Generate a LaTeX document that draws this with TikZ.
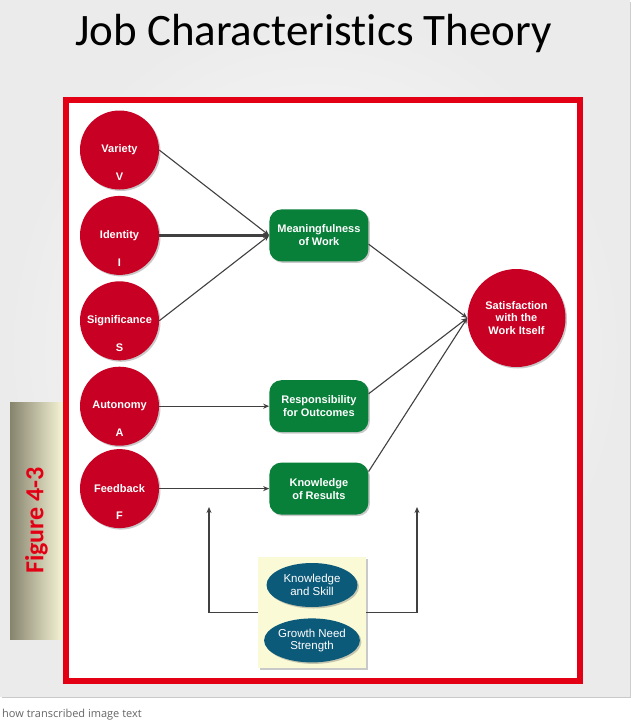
\documentclass[tikz,border=0pt]{standalone}
\usepackage{fontspec}
\setmainfont{Liberation Sans}
\newfontfamily\titlefont[Ligatures=NoCommon]{Carlito}
\newfontfamily\notefont{Open Sans}
\usetikzlibrary{positioning,arrows.meta,shadows,shapes.geometric}

\definecolor{jobred}{RGB}{200,0,35}
\definecolor{framered}{RGB}{228,0,20}
\definecolor{jobgreen}{RGB}{8,128,58}
\definecolor{jobteal}{RGB}{12,90,122}
\definecolor{paleyellow}{RGB}{250,250,215}
\definecolor{khakidark}{RGB}{135,132,110}
\definecolor{khakilight}{RGB}{246,244,214}
\definecolor{linegray}{RGB}{64,64,64}

\begin{document}
\begin{tikzpicture}[x=1pt, y=-1pt,
    font=\fontsize{11}{13}\selectfont\bfseries,
    shade/.style={drop shadow={shadow xshift=1.5pt, shadow yshift=-1.5pt,
      opacity=0.35, fill=black!60}},
    trait/.style={circle, fill=jobred, text=white, minimum size=79pt,
      inner sep=0pt, shade},
    letter/.style={text=white, yshift=-27pt},
    psych/.style={fill=jobgreen, text=white, rounded corners=12pt,
      align=center, minimum width=99pt, minimum height=52pt, inner sep=2pt,
      shade},
    outcome/.style={circle, fill=jobred, text=white, align=center,
      minimum size=98pt, inner sep=0pt, font=\fontsize{11}{12.5}\selectfont\bfseries,
      shade},
    modbox/.style={fill=paleyellow, minimum width=108pt, minimum height=111pt,
      inner sep=0pt, shade},
    moder/.style={ellipse, fill=jobteal, text=white, align=center,
      minimum width=91pt, minimum height=44pt, inner sep=0pt,
      font=\fontsize{11.5}{12.5}\selectfont, shade},
    arr/.style={-{Stealth[length=6pt, width=5pt]}, line width=1.1pt, draw=linegray},
  ]
  \useasboundingbox (0,0) rectangle (630,723);
  \fill[white] (0,0) rectangle (630,723);
  \shade[inner color=white, outer color=black!8] (0,0) rectangle (630,696);

  \node[font=\titlefont\fontsize{45}{50}\selectfont, anchor=base] (title)
    at (313.5,45) {Job Characteristics Theory};

  % figure tag on the left
  \node[rotate=90, left color=khakidark, right color=khakilight,
    minimum width=237pt, minimum height=53pt, inner sep=0pt,
    text=framered, font=\titlefont\bfseries\fontsize{26}{30}\selectfont]
    (tag) at (36.5,520.5) {Figure 4-3};

  \draw[framered, fill=white, line width=6pt] (66,100) rectangle (580,681);

  % core job characteristics
  \node[trait, label={[letter]center:V}] (var) at (119.5,150) {Variety};
  \node[trait, below=6pt of var, label={[letter]center:I}] (ident) {Identity};
  \node[trait, below=6pt of ident, label={[letter]center:S}] (sig) {Significance};
  \node[trait, below=6pt of sig, label={[letter]center:A}] (aut) {Autonomy};
  \node[trait, below=3pt of aut, label={[letter]center:F}] (feed) {Feedback};

  % psychological states
  \node[psych, right=110pt of ident] (mean) {Meaningfulness\\of Work};
  \node[psych, right=110pt of aut] (resp) {Responsibility\\for Outcomes};
  \node[psych, right=110pt of feed] (know) {Knowledge\\of Results};

  \node[outcome] (sat) at (516.5,318) {Satisfaction\\with the\\Work Itself};

  % moderators
  \node[modbox] (mod) at (312,612.5) {};
  \node[moder, below=6pt of mod.north] (skill) {Knowledge\\and Skill};
  \node[moder, below=11pt of skill] (growth) {Growth Need\\Strength};

  \coordinate (lup) at (209,507);
  \coordinate (rup) at (417,507);

  \draw[arr] (var.east) -- (mean.west);
  \draw[arr, line width=2.4pt] (ident.east) -- (mean.west);
  \draw[arr] (sig.east) -- (mean.west);
  \draw[arr] (aut.east) -- (resp.west);
  \draw[arr] (feed.east) -- (know.west);
  \draw[arr] (mean.-10) -- (sat.west);
  \draw[arr] (resp.14) -- (sat.west);
  \draw[arr] (know.19) -- (sat.west);
  \draw[arr] (mod.west) -| (lup);
  \draw[arr] (mod.east) -| (rup);

  \node[anchor=base west, inner sep=0pt, text=black!60,
    font=\notefont\fontsize{11}{13}\selectfont] (note) at (2,717)
    {how transcribed image text};
\end{tikzpicture}
\end{document}
